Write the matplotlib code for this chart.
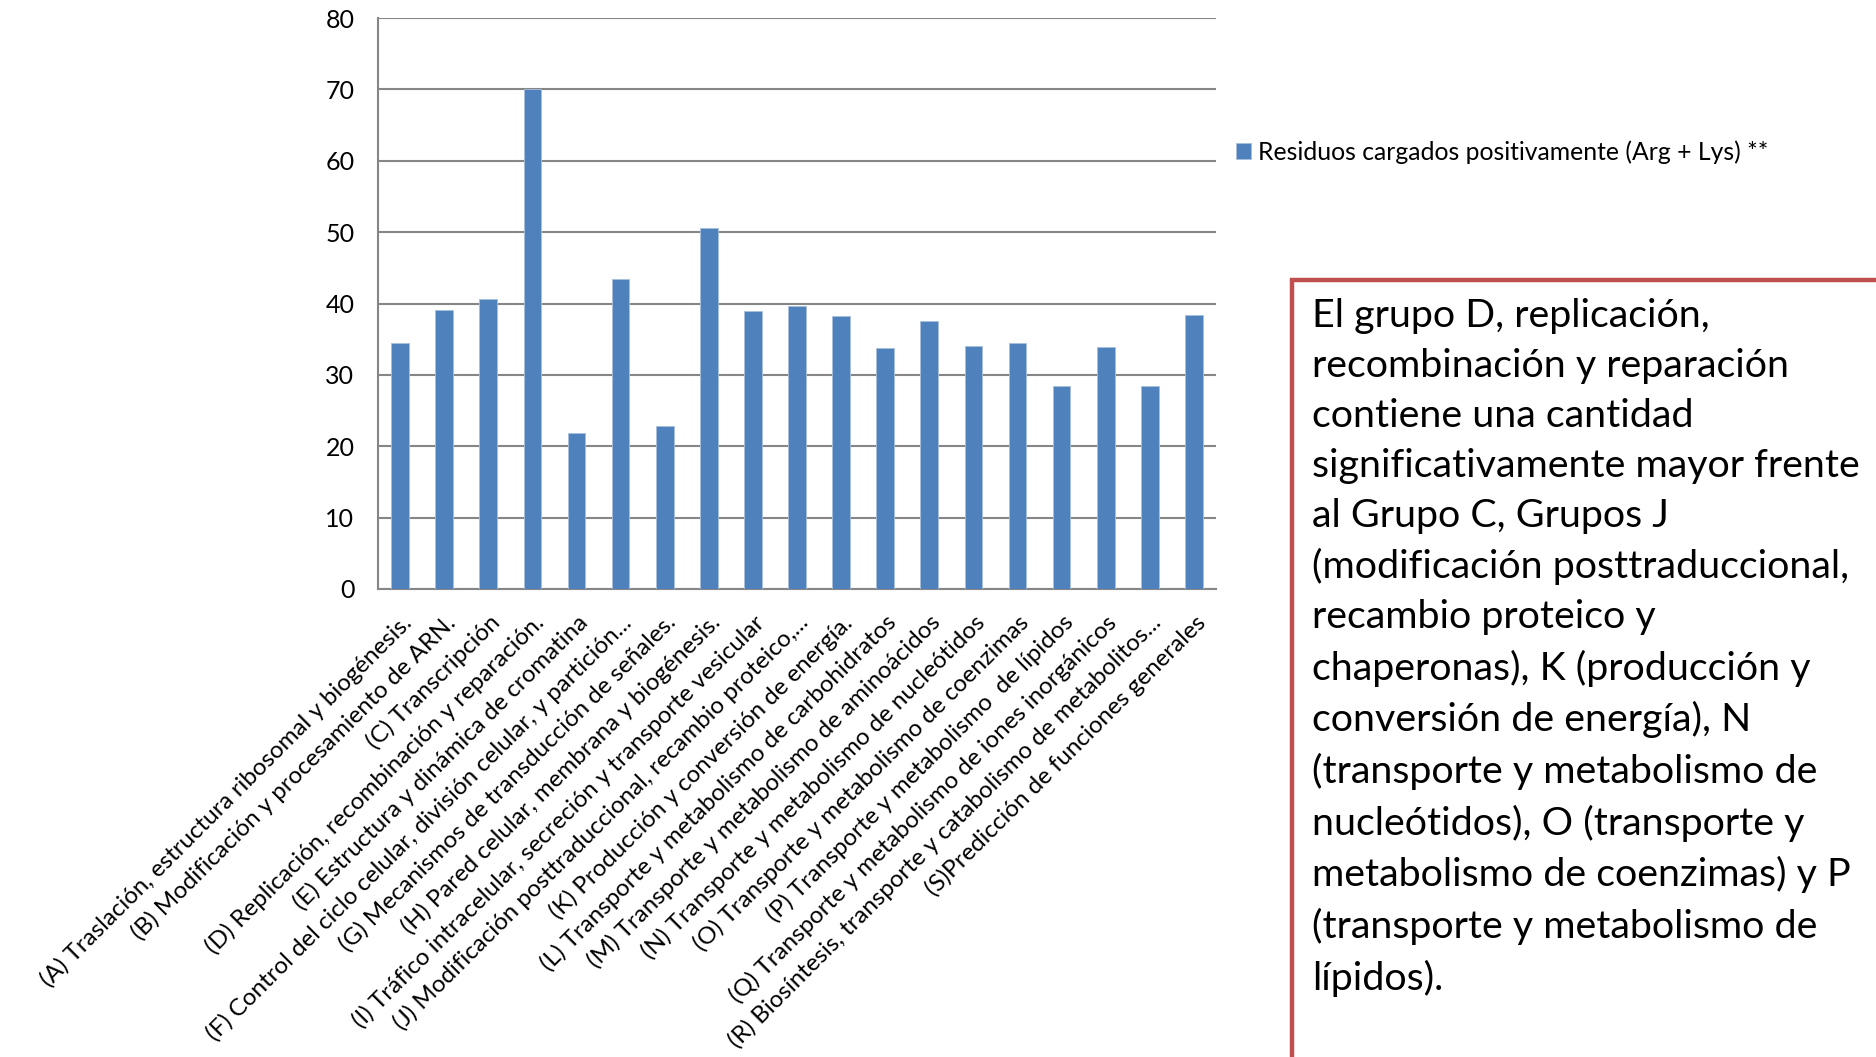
import numpy as np
import matplotlib
matplotlib.use("Agg")
import matplotlib.pyplot as plt
from matplotlib.patches import Rectangle

plt.rcParams['font.family'] = ['Lato', 'DejaVu Sans']

# --- COG categories and mean positively charged residues per group ---
categories = [
    "(A) Traslación, estructura ribosomal y biogénesis.",
    "(B) Modificación y procesamiento de ARN.",
    "(C) Transcripción",
    "(D) Replicación, recombinación y reparación.",
    "(E) Estructura y dinámica de cromatina",
    "(F) Control del ciclo celular, división celular, y partición...",
    "(G) Mecanismos de transducción de señales.",
    "(H) Pared celular, membrana y biogénesis.",
    "(I) Tráfico intracelular, secreción y transporte vesicular",
    "(J) Modificación posttraduccional, recambio proteico,...",
    "(K) Producción y conversión de energía.",
    "(L) Transporte y metabolismo de carbohidratos",
    "(M) Transporte y metabolismo de aminoácidos",
    "(N) Transporte y metabolismo de nucleótidos",
    "(O) Transporte y metabolismo de coenzimas",
    "(P) Transporte y metabolismo  de lípidos",
    "(Q) Transporte y metabolismo de iones inorgánicos",
    "(R) Biosíntesis, transporte y catabolismo de metabolitos...",
    "(S)Predicción de funciones generales",
]
residuos_pos = [34.5, 39.1, 40.7, 70.0, 21.9, 43.5, 22.8, 50.6, 38.9, 39.7,
                38.3, 33.7, 37.5, 34.0, 34.5, 28.4, 33.9, 28.4, 38.4]
serie_label = "Residuos cargados positivamente (Arg + Lys) **"
yticks = [0, 10, 20, 30, 40, 50, 60, 70, 80]

nota = [
    "El grupo D, replicación,",
    "recombinación y reparación",
    "contiene una cantidad",
    "significativamente mayor frente",
    "al Grupo C, Grupos J",
    "(modificación posttraduccional,",
    "recambio proteico y",
    "chaperonas), K (producción y",
    "conversión de energía), N",
    "(transporte y metabolismo de",
    "nucleótidos), O (transporte y",
    "metabolismo de coenzimas) y P",
    "(transporte y metabolismo de",
    "lípidos).",
]

BLUE = "#4F81BD"
GRID = "#868686"
W, H = 1876, 1057

fig = plt.figure(figsize=(W / 100, H / 100), dpi=100)
ax = fig.add_axes([378 / W, 1 - 589 / H, (1216 - 378) / W, (589 - 18) / H])

x = np.arange(len(categories))
bars = ax.bar(x, residuos_pos, width=0.4, color=BLUE, edgecolor="#A7C0DE",
              linewidth=0.6, label=serie_label, zorder=3)

ax.set_xlim(-0.5, len(categories) - 0.5)
ax.set_ylim(0, 80)
ax.set_yticks(yticks)
ax.yaxis.grid(True, color=GRID, linewidth=1.5, zorder=0)
ax.set_axisbelow(True)
for side in ("top", "right"):
    ax.spines[side].set_visible(False)
for side in ("left", "bottom"):
    ax.spines[side].set_color(GRID)
    ax.spines[side].set_linewidth(1.5)
ax.tick_params(axis="both", length=0, colors="black")
ax.tick_params(axis="y", pad=17, labelsize=18)
ax.set_xticks(x)
ax.set_xticklabels(categories, rotation=45, ha="right", rotation_mode="anchor")
ax.tick_params(axis="x", pad=16, labelsize=17.4)

fig.legend(handles=[bars], labels=[serie_label], loc="center left",
           bbox_to_anchor=(1236 / W, 1 - 152 / H), frameon=False,
           fontsize=17.8, handlelength=0.6, handleheight=0.6,
           handletextpad=0.3, borderaxespad=0, borderpad=0)

# note box on the right, running off the page edge
fig.patches.append(Rectangle((1292 / W, -0.05), 0.5, 1 - 280 / H + 0.05,
                             transform=fig.transFigure, facecolor="white",
                             edgecolor="#C0504D", linewidth=3.2))
fig.text(1312 / W, 1 - 298 / H, "\n".join(nota), ha="left", va="top",
         fontsize=28.4, linespacing=1.48)

fig.savefig("out.png", dpi=100)
